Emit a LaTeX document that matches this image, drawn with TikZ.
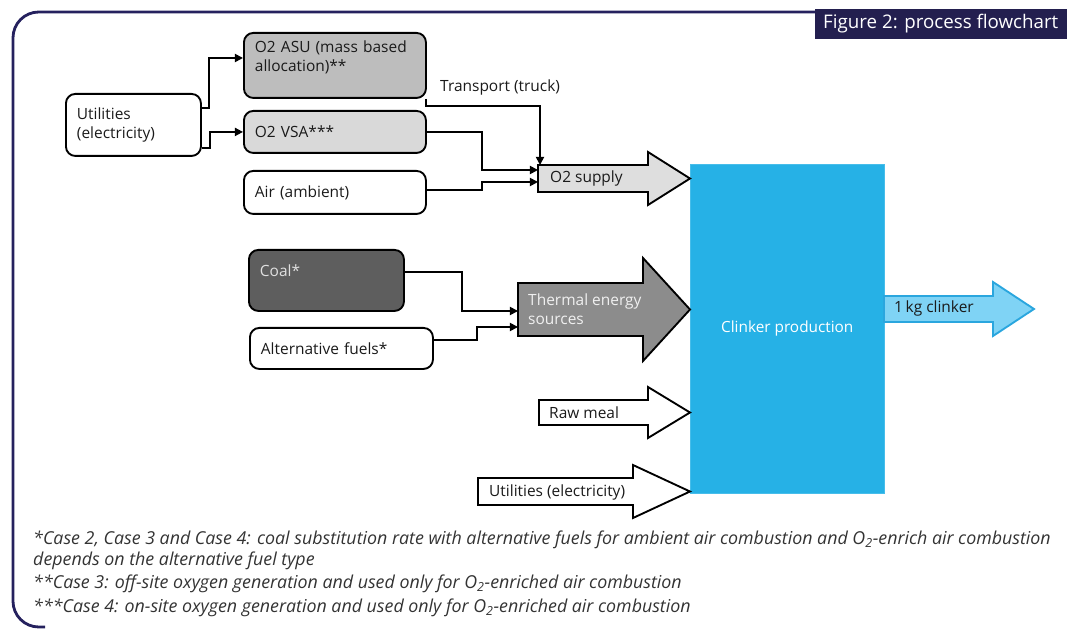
\documentclass[tikz,border=0pt]{standalone}
\usepackage{fontspec}
\setmainfont{Open Sans}
\usepackage{xcolor}
\usetikzlibrary{arrows.meta}
\definecolor{framenavy}{HTML}{25215E}
\definecolor{titlenavy}{HTML}{231F4F}
\definecolor{textblack}{HTML}{1A1A1A}
\definecolor{asugray}{HTML}{BDBDBD}
\definecolor{vsagray}{HTML}{D9D9D9}
\definecolor{o2gray}{HTML}{DEDEDE}
\definecolor{coalgray}{HTML}{5E5E5E}
\definecolor{thermgray}{HTML}{8C8C8C}
\definecolor{clinkerblue}{HTML}{26B1E6}
\definecolor{outblue}{HTML}{7FD3F5}
\definecolor{outline}{HTML}{2AA6DE}
\definecolor{footgray}{HTML}{333333}
\newcommand{\blockarrow}[7][]{\draw[bigarrow,#1] (#2,#3) -- (#5,#3) -- (#5,#3-#6) -- (#7,{(#3+#4)/2}) -- (#5,#4+#6) -- (#5,#4) -- (#2,#4) -- cycle;}

\begin{document}
\begin{tikzpicture}[x=0.03cm, y=-0.03cm, font=\fontsize{13.2}{16.2}\selectfont]
\tikzstyle{box} = [draw=black, line width=1.6pt, rounded corners=8pt, anchor=north west, align=left, inner xsep=0.33cm, inner ysep=0pt, text=textblack]
\tikzstyle{flow} = [line width=1.5pt, -{Triangle[length=7pt,width=7pt]}]
\tikzstyle{bigarrow} = [draw=black, line width=1.6pt, line join=miter]
\tikzstyle{lbl} = [anchor=west, inner sep=0pt, text=textblack]
\tikzstyle{foot} = [anchor=west, inner sep=0pt, text=footgray, font=\fontsize{15.2}{16}\selectfont\itshape]
\useasboundingbox (0,0) rectangle (1067,629);

\draw[framenavy, line width=2.4pt, rounded corners=22pt] (45,627) -- (13,627) -- (13,12) -- (818,12);
\node[fill=titlenavy, text=white, anchor=north east, minimum width=7.56cm, minimum height=0.88cm, inner sep=0pt, font=\fontsize{16}{16}\selectfont] (title) at (1067,9) {Figure 2: process flowchart};

\node[box, text width=3.39cm, minimum height=1.86cm] (util) at (65,93) {Utilities\\(electricity)};
\node[box, fill=asugray, text width=4.8cm, minimum height=1.95cm] (asu) at (243,32) {O2 ASU (mass based\\allocation)**\\\mbox{}};
\node[box, fill=vsagray, text width=4.8cm, minimum height=1.26cm] (vsa) at (243,110) {O2 VSA***};
\node[box, text width=4.8cm, minimum height=1.29cm] (air) at (243,170) {Air (ambient)};
\node[box, fill=coalgray, text=white!88!black, text width=3.99cm, minimum height=1.83cm] (coal) at (248,249) {Coal*\\\mbox{}};
\node[box, text width=4.83cm, minimum height=1.23cm] (alt) at (249,327) {Alternative fuels*};

\node[fill=clinkerblue, draw=clinkerblue!85!white, anchor=north west, minimum width=5.82cm, minimum height=9.87cm, text=white, font=\fontsize{13.1}{16}\selectfont] (clk) at (690,164) {Clinker production};

\blockarrow[fill=o2gray]{538}{165}{192}{648}{13}{690}
\blockarrow[fill=thermgray]{518}{283}{336}{643}{25}{690}
\blockarrow[fill=white]{539}{400}{425}{648}{13}{690}
\blockarrow[fill=white]{478}{478}{505}{633}{13}{690}
\blockarrow[fill=outblue, draw=outline]{884}{296}{322}{993}{14}{1034}

\node[lbl] (o2sup) at (550,178) {O2 supply};
\node[lbl, text=white!94!black, align=left] (therm) at (528,309) {Thermal energy\\sources};
\node[lbl] (raw) at (549,413) {Raw meal};
\node[lbl] (util2) at (489,492) {Utilities (electricity)};
\node[lbl] (out) at (894,308) {1\,kg clinker};
\node[lbl] (trans) at (440,87) {Transport (truck)};

\coordinate (o2top) at (540,165);
\coordinate (o2a) at (538,170);
\coordinate (o2b) at (538,182);
\coordinate (tha) at (518,311);
\coordinate (thb) at (518,327);

\draw[flow] (util.east |- 0,108) -- ++(7,0) |- (asu.west |- 0,58);
\draw[flow] (util.east |- 0,148) -- ++(8,0) |- (vsa.west);
\draw[flow] (asu.south east) ++(-1,0) -- ++(0,7) -| (o2top);
\draw[flow] (vsa.east) -| (482,150) |- (o2a);
\draw[flow] (air.east |- 0,190) -| (482,186) |- (o2b);
\draw[flow] (coal.east |- 0,272) -| (462,290) |- (tha);
\draw[flow] (alt.east |- 0,340) -| (477,333) |- (thb);

\node[foot] (n1) at (33,540) {*Case 2, Case 3 and Case 4: coal substitution rate with alternative fuels for ambient air combustion and O\textsubscript{2}-enrich air combustion};
\node[foot] (n2) at (33,561) {depends on the alternative fuel type};
\node[foot] (n3) at (33,584) {**Case 3: off-site oxygen generation and used only for O\textsubscript{2}-enriched air combustion};
\node[foot] (n4) at (33,608) {***Case 4: on-site oxygen generation and used only for O\textsubscript{2}-enriched air combustion};
\end{tikzpicture}
\end{document}
